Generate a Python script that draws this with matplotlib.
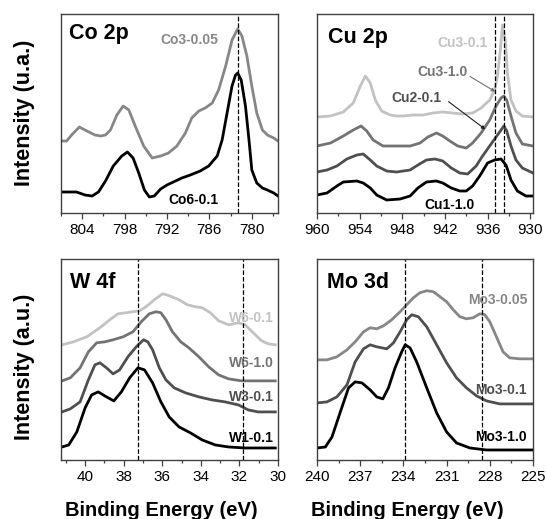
import matplotlib
matplotlib.use('Agg')
import matplotlib.pyplot as plt
from matplotlib.ticker import MultipleLocator

plt.rcParams['font.family'] = ['Liberation Sans', 'DejaVu Sans']

BLACK = '#000000'
DARK = '#4f4f4f'
MID = '#737373'
GRAY = '#878787'
LIGHT = '#c2c2c2'

# ---- Co 2p ----
co_x = [806.9, 806.2, 805.5, 804.4, 803.6, 802.2, 801.4, 800.7, 800.0, 799.1, 798.2, 797.4, 796.5, 795.3,
        794.1, 792.9, 791.8, 790.6, 789.4, 788.5, 787.5, 786.6, 785.6, 784.7, 783.7, 782.8, 782.0, 781.4,
        780.7, 780.0, 779.3, 778.5, 777.8, 776.9, 776.3]
co3_005 = [72, 72, 78, 86, 83, 78, 77, 78, 83, 98, 107, 103, 87, 67,
           55, 57, 60, 67, 80, 95, 102, 105, 110, 123, 147, 173, 184, 177,
           157, 127, 100, 83, 78, 75, 72]
co6_x = [806.9, 804.8, 803.6, 802.6, 801.7, 800.7, 799.6, 798.4, 797.6, 796.8, 796.0, 795.2, 794.5, 793.8,
         792.9, 792.0, 791.1, 789.9, 788.7, 787.3, 786.1, 784.9, 784.2, 783.5, 782.8, 782.3, 782.0, 781.5,
         780.9, 780.4, 780.0, 779.3, 778.5, 777.8, 776.9, 776.3]
co6_01 = [21, 21, 18, 17, 21, 32, 47, 57, 61, 55, 40, 23, 16, 17,
          24, 28, 31, 35, 38, 42, 47, 57, 73, 100, 127, 138, 140, 133,
          107, 73, 43, 30, 25, 23, 20, 17]

# ---- Cu 2p ----
cu31_x = [960.0, 958.1, 956.3, 954.9, 953.9, 953.2, 952.5, 951.8, 950.9, 949.7, 948.8, 947.9, 946.5, 945.1,
          943.7, 942.3, 940.9, 939.5, 938.1, 936.9, 935.7, 935.0, 934.6, 934.2, 933.9, 933.5, 933.2, 932.7,
          932.0, 931.1, 929.6]
cu3_01 = [96, 97, 101, 110, 127, 137, 130, 113, 102, 98, 97, 97, 98, 98,
          100, 101, 100, 99, 100, 105, 113, 123, 137, 163, 188, 173, 140, 113,
          102, 97, 96]
cu310_x = [960.0, 958.1, 956.3, 954.9, 953.8, 953.0, 952.1, 950.7, 948.8, 946.9, 945.5, 944.4, 943.2, 942.3,
           941.3, 940.2, 939.0, 938.1, 936.9, 935.7, 934.8, 934.1, 933.7, 933.3, 932.7, 932.0, 931.1, 929.6]
cu3_10 = [67, 70, 77, 83, 87, 82, 73, 67, 67, 67, 70, 76, 80, 77,
          72, 67, 65, 70, 80, 93, 107, 115, 117, 113, 97, 80, 69, 67]
cu2_x = [960.0, 958.6, 957.2, 955.8, 954.4, 953.5, 952.5, 951.6, 950.2, 948.8, 946.9, 945.8, 944.6, 943.4,
         942.3, 941.1, 939.9, 938.8, 937.6, 936.7, 935.7, 934.9, 934.1, 933.7, 933.3, 932.7, 932.0, 931.1, 929.6]
cu2_01 = [41, 43, 47, 54, 58, 59, 53, 47, 42, 41, 43, 48, 53, 54,
          52, 45, 40, 39, 47, 57, 67, 75, 83, 87, 82, 67, 53, 45, 40]
cu1_x = [960.0, 958.6, 957.2, 956.3, 954.4, 953.5, 952.5, 951.6, 950.2, 948.3, 946.9, 945.8, 944.6, 943.2,
         942.3, 941.1, 939.9, 939.0, 938.1, 937.1, 936.0, 935.0, 934.1, 933.4, 932.7, 931.8, 930.6, 929.6]
cu1_10 = [18, 20, 27, 31, 32, 30, 25, 18, 13, 14, 17, 25, 31, 32,
          30, 25, 22, 22, 27, 37, 50, 53, 54, 48, 33, 22, 17, 17]

# ---- W 4f ----
w61_x = [41.20, 40.60, 39.91, 39.23, 38.72, 38.29, 37.86, 37.52, 37.18, 36.84, 36.41, 35.98, 35.64, 35.13,
         34.70, 34.27, 33.93, 33.50, 33.08, 32.56, 32.05, 31.71, 31.28, 30.85, 30.51, 30.14]
w6_01 = [115, 118, 123, 132, 140, 146, 147, 148, 149, 153, 160, 166, 164, 160,
         155, 153, 152, 147, 139, 135, 137, 135, 127, 119, 116, 115]
w610_x = [41.20, 40.77, 40.26, 39.83, 39.40, 38.97, 38.55, 38.03, 37.52, 37.09, 36.67, 36.32, 36.07, 35.81,
          35.47, 35.04, 34.62, 34.10, 33.59, 33.08, 32.56, 31.88, 30.14]
w6_10 = [79, 82, 92, 108, 117, 118, 120, 123, 128, 138, 146, 148, 147, 140,
         128, 118, 112, 103, 93, 85, 81, 79, 79]
w3_x = [41.20, 40.77, 40.26, 39.83, 39.49, 39.23, 38.89, 38.55, 38.21, 37.78, 37.35, 36.97, 36.75, 36.50,
        36.15, 35.81, 35.38, 34.79, 34.10, 33.42, 32.74, 32.05, 31.54, 31.03, 30.14]
w3_01 = [48, 51, 58, 80, 95, 97, 92, 86, 90, 103, 113, 120, 118, 110,
         92, 80, 72, 67, 63, 60, 58, 55, 50, 48, 48]
w1_x = [41.20, 40.85, 40.43, 40.00, 39.66, 39.32, 38.89, 38.51, 38.12, 37.69, 37.26, 36.92, 36.50, 36.07,
        35.64, 35.13, 34.53, 33.93, 33.25, 32.56, 31.71, 30.14]
w1_01 = [13, 15, 28, 52, 65, 68, 63, 59, 68, 82, 92, 90, 77, 58,
         43, 33, 27, 20, 15, 13, 12, 12]

# ---- Mo 3d ----
mo005_x = [240.0, 239.31, 238.62, 237.92, 237.35, 236.77, 236.31, 235.85, 235.38, 234.81, 234.23, 233.77,
           233.31, 232.85, 232.38, 231.92, 231.46, 231.00, 230.54, 230.08, 229.62, 229.15, 228.69, 228.35,
           228.00, 227.54, 227.08, 226.62, 225.92, 225.0]
mo3_005 = [100, 100, 103, 110, 118, 128, 132, 131, 134, 140, 148, 155,
           162, 167, 169, 168, 163, 158, 150, 143, 141, 142, 146, 145,
           138, 123, 108, 102, 101, 101]
mo01_x = [240.0, 239.31, 238.62, 237.92, 237.35, 236.77, 236.31, 235.85, 235.15, 234.69, 234.23, 233.77,
          233.42, 232.96, 232.38, 231.69, 231.00, 230.31, 229.62, 228.92, 228.23, 227.31, 225.0]
mo3_01 = [57, 58, 63, 75, 98, 111, 115, 113, 111, 117, 128, 140,
          145, 143, 133, 115, 97, 82, 72, 64, 59, 56, 56]
mo10_x = [240.0, 239.42, 238.96, 238.38, 237.81, 237.35, 236.88, 236.31, 235.85, 235.43, 235.04, 234.58,
          234.12, 233.88, 233.54, 233.08, 232.38, 231.69, 231.00, 230.31, 229.38, 228.23, 225.0]
mo3_10 = [12, 13, 23, 48, 72, 78, 77, 70, 63, 61, 72, 92,
          108, 115, 112, 98, 72, 47, 28, 17, 12, 10, 10]

fig = plt.figure(figsize=(5.46, 5.19), dpi=100)
ax1 = fig.add_axes([0.1117, 0.5896, 0.3974, 0.3834])
ax2 = fig.add_axes([0.5806, 0.5896, 0.3956, 0.3834])
ax3 = fig.add_axes([0.1117, 0.1137, 0.3974, 0.3873])
ax4 = fig.add_axes([0.5806, 0.1137, 0.3956, 0.3873])

LW = 2.0
lab = dict(fontsize=10, fontweight='bold')


def style(ax, xlim, major, minor, ymax):
    ax.set_xlim(*xlim)
    ax.set_ylim(0, ymax)
    ax.set_yticks([])
    ax.xaxis.set_major_locator(MultipleLocator(major))
    ax.xaxis.set_minor_locator(MultipleLocator(minor))
    ax.tick_params(axis='x', which='major', labelsize=11, length=4, width=0.9, color='#404040', pad=3)
    ax.tick_params(axis='x', which='minor', length=2.5, width=0.9, color='#404040')
    for s in ax.spines.values():
        s.set_color('#404040')
        s.set_linewidth(1.0)


# Co
ax1.plot(co_x, co3_005, color=GRAY, lw=LW, solid_joinstyle='round')
ax1.plot(co6_x, co6_01, color=BLACK, lw=LW, solid_joinstyle='round')
ax1.axvline(781.9, color='k', ls='--', lw=0.9)
style(ax1, (807, 776.3), 6, 3, 199)
ax1.text(805.8, 180, 'Co 2p', fontsize=15.5, fontweight='bold', va='center')
ax1.text(788.8, 173, 'Co3-0.05', color=GRAY, ha='center', va='center', **lab)
ax1.text(788.2, 13, 'Co6-0.1', color=BLACK, ha='center', va='center', **lab)

# Cu
ax2.plot(cu31_x, cu3_01, color=LIGHT, lw=LW, solid_joinstyle='round')
ax2.plot(cu310_x, cu3_10, color=MID, lw=LW, solid_joinstyle='round')
ax2.plot(cu2_x, cu2_01, color=DARK, lw=LW, solid_joinstyle='round')
ax2.plot(cu1_x, cu1_10, color=BLACK, lw=LW, solid_joinstyle='round')
ax2.axvline(935.0, color='k', ls='--', lw=0.9)
ax2.axvline(933.7, color='k', ls='--', lw=0.9)
style(ax2, (960, 929.6), 6, 3, 199)
ax2.text(958.5, 176, 'Cu 2p', fontsize=15.5, fontweight='bold', va='center')
ax2.text(939.5, 170, 'Cu3-0.1', color=LIGHT, ha='center', va='center', **lab)
ax2.text(942.4, 141, 'Cu3-1.0', color=MID, ha='center', va='center', **lab)
ax2.text(946.0, 115, 'Cu2-0.1', color=DARK, ha='center', va='center', **lab)
ax2.text(941.3, 8, 'Cu1-1.0', color=BLACK, ha='center', va='center', **lab)
ax2.annotate('', xy=(934.6, 120), xytext=(938.8, 138),
             arrowprops=dict(arrowstyle='-|>', color=MID, lw=0.8, mutation_scale=5))
ax2.annotate('', xy=(936.0, 82), xytext=(941.8, 113),
             arrowprops=dict(arrowstyle='-|>', color='#202020', lw=0.8, mutation_scale=5))

# W
ax3.plot(w61_x, w6_01, color=LIGHT, lw=LW, solid_joinstyle='round')
ax3.plot(w610_x, w6_10, color=MID, lw=LW, solid_joinstyle='round')
ax3.plot(w3_x, w3_01, color=DARK, lw=LW, solid_joinstyle='round')
ax3.plot(w1_x, w1_01, color=BLACK, lw=LW, solid_joinstyle='round')
ax3.axvline(37.26, color='k', ls='--', lw=0.9)
ax3.axvline(31.83, color='k', ls='--', lw=0.9)
style(ax3, (41.25, 30.0), 2, 1, 200.7)
ax3.text(40.8, 177, 'W 4f', fontsize=15.5, fontweight='bold', va='center')
ax3.text(30.2, 142, 'W6-0.1', color=LIGHT, ha='right', va='center', **lab)
ax3.text(30.2, 97, 'W6-1.0', color=MID, ha='right', va='center', **lab)
ax3.text(30.2, 63, 'W3-0.1', color=DARK, ha='right', va='center', **lab)
ax3.text(30.2, 22, 'W1-0.1', color=BLACK, ha='right', va='center', **lab)

# Mo
ax4.plot(mo005_x, mo3_005, color=GRAY, lw=LW, solid_joinstyle='round')
ax4.plot(mo01_x, mo3_01, color=DARK, lw=LW, solid_joinstyle='round')
ax4.plot(mo10_x, mo3_10, color=BLACK, lw=LW, solid_joinstyle='round')
ax4.axvline(233.9, color='k', ls='--', lw=0.9)
ax4.axvline(228.55, color='k', ls='--', lw=0.9)
style(ax4, (240, 225), 3, 1.5, 200.7)
ax4.text(239.3, 177, 'Mo 3d', fontsize=15.5, fontweight='bold', va='center')
ax4.text(225.4, 160, 'Mo3-0.05', color=GRAY, ha='right', va='center', **lab)
ax4.text(225.4, 70, 'Mo3-0.1', color=DARK, ha='right', va='center', **lab)
ax4.text(225.4, 23, 'Mo3-1.0', color=BLACK, ha='right', va='center', **lab)

fig.text(25 / 546, 1 - 113 / 519, 'Intensity (u.a.)', rotation=90, fontsize=15.5,
         fontweight='bold', ha='center', va='center')
fig.text(25 / 546, 1 - 367 / 519, 'Intensity (a.u.)', rotation=90, fontsize=15.5,
         fontweight='bold', ha='center', va='center')
fig.text(161 / 546, 1 - 510 / 519, 'Binding Energy (eV)', fontsize=14.5,
         fontweight='bold', ha='center', va='center')
fig.text(407 / 546, 1 - 510 / 519, 'Binding Energy (eV)', fontsize=14.5,
         fontweight='bold', ha='center', va='center')

fig.savefig('out.png', dpi=100)
